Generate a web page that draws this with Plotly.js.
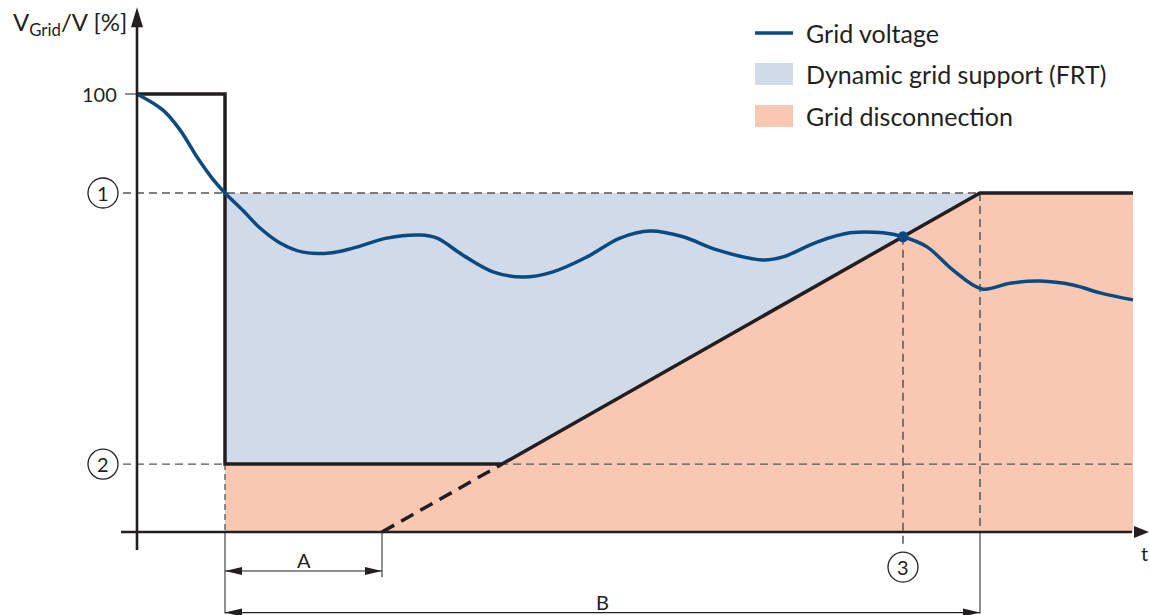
<!DOCTYPE html>
<html>
<head>
<meta charset="utf-8">
<script src="https://cdn.plot.ly/plotly-3.0.1.min.js"></script>
<style>html,body{margin:0;padding:0;background:#fff}#chart{width:1150px;height:615px}</style>
</head>
<body>
<div id="chart"></div>
<script>
// ---- data (time in arbitrary units, voltage in % of nominal) ----
const tVoltage = [0, 2.6, 4.3, 6.0, 7.5, 8.8, 10.6, 12.3, 14.3, 16.6, 19.3, 21.6, 25.0, 28.3, 30.0, 32.6, 35.6, 38.6, 41.6, 45.0, 48.3, 51.3, 54.6, 58.0, 62.6, 64.6, 68.0, 71.3, 74.6, 76.6, 79.0, 81.6, 84.5, 87.3, 90.3, 93.6, 96.3, 99.6];
const vGrid    = [100, 96.3, 91.8, 85.6, 80.8, 77.4, 73.4, 69.4, 66.0, 63.9, 63.7, 64.8, 67.1, 67.8, 67.1, 63.2, 59.4, 58.2, 59.4, 62.8, 67.1, 68.7, 67.4, 64.4, 62.1, 62.8, 66.2, 68.3, 68.3, 67.4, 65.1, 59.8, 55.5, 56.8, 57.3, 56.4, 54.6, 53.0];

const vNominal = 100;     // 100 %
const vLevel1 = 77.4;     // (1)
const vLevel2 = 15.5;     // (2)
const tFault = 8.8;       // voltage dip
const tRampStart = 24.5;  // end of A (ramp extrapolated to 0)
const tRampKnee = 36.5;   // ramp crosses level (2)
const tRampEnd = 84.3;    // end of B
const tEnd = 99.6;
const tTrip = 76.6;       // (3) grid voltage crosses limit
const vTrip = 67.4;

const legendLabels = ["Grid voltage", "Dynamic grid support (FRT)", "Grid disconnection"];
const levelLabels = ["1", "2", "3"];
const yTickLabel = "100";

// ---- styles ----
const cBlue = "#0b4a80", cFrt = "#d0dae8", cDis = "#f9c8b3", cBlack = "#231f20", cGray = "#555555";
const FONT = "Lato, 'Open Sans', sans-serif";

const W = 1150, H = 615;
const px = x => x / W;
const py = y => 1 - y / H;
const xMin = -13.7, xMax = 101.3, yMin = -18.95, yMax = 121.46;
const dxPx = (xMax - xMin) / W, dyPx = (yMax - yMin) / H;

function seg(x, y, color, width, dash) {
  return {x: x, y: y, mode: "lines", type: "scatter", hoverinfo: "skip", showlegend: false,
          line: {color: color, width: width, dash: dash || "solid"}};
}

const traces = [
  {x: [tFault, tEnd, tEnd, tRampEnd, tRampKnee, tFault, tFault],
   y: [0, 0, vLevel1, vLevel1, vLevel2, vLevel2, 0],
   type: "scatter", mode: "none", fill: "toself", fillcolor: cDis, hoverinfo: "skip", showlegend: false},
  {x: [tFault, tRampKnee, tRampEnd, tFault, tFault],
   y: [vLevel2, vLevel2, vLevel1, vLevel1, vLevel2],
   type: "scatter", mode: "none", fill: "toself", fillcolor: cFrt, hoverinfo: "skip", showlegend: false},
  seg([-1.4, tRampEnd], [vLevel1, vLevel1], cGray, 1.3, "8px,5px"),
  seg([-1.4, tEnd], [vLevel2, vLevel2], cGray, 1.3, "8px,5px"),
  seg([tFault, tFault], [vLevel2, 0], cGray, 1.3, "6px,4px"),
  seg([tTrip, tTrip], [vTrip, -3.0], cGray, 1.5, "8px,5px"),
  seg([tRampEnd, tRampEnd], [vLevel1, 0], cGray, 1.5, "8px,5px"),
  seg([tFault, tFault], [0, -18.6], cBlack, 1, "solid"),
  seg([tRampEnd, tRampEnd], [0, -18.6], cBlack, 1, "solid"),
  seg([tRampStart, tRampStart], [0, -10.3], cBlack, 1, "solid"),
  seg([tFault, tRampStart], [-8.9, -8.9], cBlack, 1.2, "solid"),
  seg([tFault, tRampEnd], [-18.4, -18.4], cBlack, 1.2, "solid"),
  seg([0, tFault, tFault, tRampKnee, tRampEnd, tEnd], [vNominal, vNominal, vLevel2, vLevel2, vLevel1, vLevel1], cBlack, 3.5, "solid"),
  seg([tRampStart, tRampKnee], [0, vLevel2], cBlack, 3.5, "14px,8px"),
  {x: tVoltage, y: vGrid, type: "scatter", mode: "lines", line: {color: cBlue, width: 3.5, shape: "spline", smoothing: 1},
   hoverinfo: "skip", showlegend: false},
  {x: [tTrip], y: [vTrip], type: "scatter", mode: "markers", marker: {color: cBlue, size: 11}, hoverinfo: "skip", showlegend: false},
  seg([0, 0], [-4.1, 116], cBlack, 2.6, "solid"),
  seg([-1.6, 99.5], [0, 0], cBlack, 2.6, "solid"),
  seg([-1.2, 0], [vNominal, vNominal], cBlack, 1, "solid")
];

const shapes = [];
function head(x, y, dir, len, half) {
  let p;
  const L = len, Hh = half;
  if (dir === "up") p = [[x, y], [x - Hh * dxPx, y - L * dyPx], [x + Hh * dxPx, y - L * dyPx]];
  else if (dir === "right") p = [[x, y], [x - L * dxPx, y + Hh * dyPx], [x - L * dxPx, y - Hh * dyPx]];
  else p = [[x, y], [x + L * dxPx, y + Hh * dyPx], [x + L * dxPx, y - Hh * dyPx]];
  shapes.push({type: "path", xref: "x", yref: "y",
    path: "M" + p.map(q => q[0] + "," + q[1]).join("L") + "Z",
    fillcolor: cBlack, line: {width: 0}});
}
head(0, 119.8, "up", 20, 6);
head(101.2, 0, "right", 15, 6);
head(tFault, -8.9, "left", 17, 4);
head(tRampStart, -8.9, "right", 17, 4);
head(tFault, -18.4, "left", 17, 4);
head(tRampEnd, -18.4, "right", 17, 4);

const annotations = [];
function label(text, x, y, size, xanchor) {
  annotations.push({x: x, y: y, xref: "x", yref: "y", text: text, showarrow: false,
    xanchor: xanchor || "center", yanchor: "middle", font: {family: FONT, size: size, color: cBlack}});
}
label("A", (tFault + tRampStart) / 2, -6.4, 20);
label("B", (tFault + tRampEnd) / 2, -16.0, 20);
label("t", 100.7, -4.8, 20);
label(yTickLabel, -1.8, vNominal, 20, "right");
label("V<sub>Grid</sub>/V [%]", -0.8, 116.2, 24, "right");

const circlePos = [[-3.4, vLevel1], [-3.4, vLevel2], [tTrip, -8.0]];
circlePos.forEach((p, i) => {
  shapes.push({type: "circle", xref: "x", yref: "y", xsizemode: "pixel", ysizemode: "pixel",
    xanchor: p[0], yanchor: p[1], x0: -15, x1: 15, y0: -15, y1: 15,
    line: {color: cBlack, width: 1.3}, fillcolor: "rgba(0,0,0,0)"});
  label(levelLabels[i], p[0], p[1], 20);
});

const legendRows = [33, 74, 116];
shapes.push({type: "line", xref: "paper", yref: "paper", x0: px(755), x1: px(793), y0: py(33), y1: py(33),
  line: {color: cBlue, width: 3.5}});
shapes.push({type: "rect", xref: "paper", yref: "paper", x0: px(755), x1: px(793), y0: py(63), y1: py(85),
  line: {width: 0}, fillcolor: cFrt});
shapes.push({type: "rect", xref: "paper", yref: "paper", x0: px(755), x1: px(793), y0: py(105), y1: py(127),
  line: {width: 0}, fillcolor: cDis});
legendLabels.forEach((t, i) => {
  annotations.push({x: px(804), y: py(legendRows[i]), xref: "paper", yref: "paper", text: t, showarrow: false,
    xanchor: "left", yanchor: "middle", font: {family: FONT, size: 25, color: cBlack}});
});

const layout = {
  width: W, height: H,
  margin: {l: 0, r: 0, t: 0, b: 0, pad: 0},
  paper_bgcolor: "#ffffff", plot_bgcolor: "#ffffff",
  xaxis: {range: [xMin, xMax], visible: false, fixedrange: true},
  yaxis: {range: [yMin, yMax], visible: false, fixedrange: true},
  showlegend: false,
  shapes: shapes,
  annotations: annotations
};

Plotly.newPlot("chart", traces, layout, {staticPlot: true, displayModeBar: false});
</script>
</body>
</html>
